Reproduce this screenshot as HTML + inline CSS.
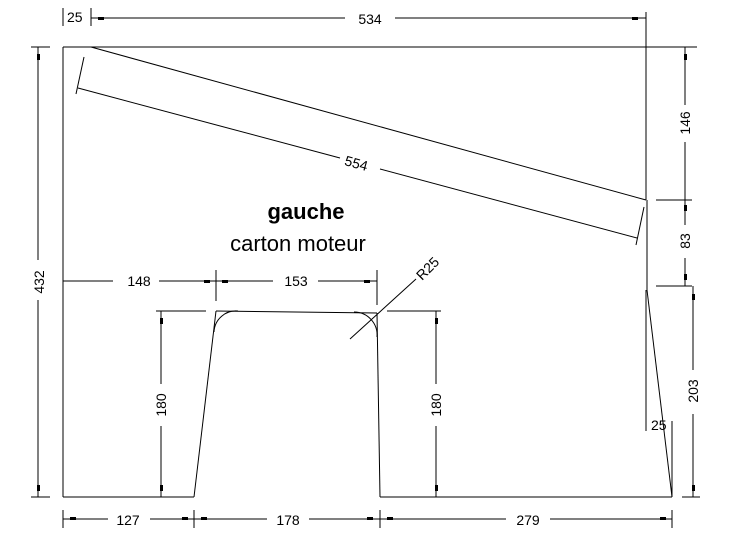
<!DOCTYPE html>
<html><head><meta charset="utf-8"><style>
html,body{margin:0;padding:0;background:#fff;}
svg{display:block}
text{font-family:"Liberation Sans",sans-serif;font-size:14px;fill:#000}
</style></head><body>
<svg width="731" height="546" viewBox="0 0 731 546" xmlns="http://www.w3.org/2000/svg">
<g stroke="#000" stroke-width="1" fill="none">
<line x1="63" y1="47" x2="697" y2="47"/>
<line x1="63" y1="47" x2="63" y2="497"/>
<line x1="91" y1="47" x2="646" y2="200"/>
<line x1="647" y1="200" x2="647" y2="290"/>
<line x1="647" y1="290" x2="672" y2="497"/>
<line x1="63" y1="497" x2="194" y2="497"/>
<line x1="380" y1="497" x2="672" y2="497"/>
<line x1="194" y1="497" x2="216" y2="311"/>
<line x1="216" y1="311" x2="377" y2="313"/>
<line x1="377" y1="313" x2="380" y2="497"/>
<path d="M214 332 A22 22 0 0 1 238 311"/>
<path d="M354 312 A23 23 0 0 1 377 337"/>
<line x1="63" y1="8" x2="63" y2="26"/>
<line x1="91" y1="8" x2="91" y2="26"/>
<line x1="646" y1="12" x2="646" y2="200"/>
<line x1="91" y1="18" x2="345" y2="18"/>
<line x1="395" y1="18" x2="646" y2="18"/>
<line x1="31" y1="47" x2="50" y2="47"/>
<line x1="31" y1="497" x2="50" y2="497"/>
<line x1="38" y1="47" x2="38" y2="260"/>
<line x1="38" y1="300" x2="38" y2="497"/>
<line x1="84" y1="57" x2="76" y2="94"/>
<line x1="644" y1="207" x2="636" y2="245"/>
<line x1="78" y1="88" x2="340" y2="158"/>
<line x1="380" y1="169" x2="637" y2="238"/>
<line x1="656" y1="200" x2="692" y2="200"/>
<line x1="656" y1="286" x2="692" y2="286"/>
<line x1="685" y1="47" x2="685" y2="105"/>
<line x1="685" y1="142" x2="685" y2="225"/>
<line x1="685" y1="258" x2="685" y2="286"/>
<line x1="693" y1="286" x2="693" y2="370"/>
<line x1="693" y1="414" x2="693" y2="497"/>
<line x1="682" y1="497" x2="700" y2="497"/>
<line x1="646" y1="290" x2="646" y2="431"/>
<line x1="672" y1="421" x2="672" y2="497"/>
<line x1="63" y1="510" x2="63" y2="528"/>
<line x1="194" y1="510" x2="194" y2="528"/>
<line x1="380" y1="510" x2="380" y2="528"/>
<line x1="672" y1="510" x2="672" y2="528"/>
<line x1="63" y1="519" x2="108" y2="519"/>
<line x1="150" y1="519" x2="267" y2="519"/>
<line x1="309" y1="519" x2="506" y2="519"/>
<line x1="550" y1="519" x2="672" y2="519"/>
<line x1="63" y1="281" x2="113" y2="281"/>
<line x1="159" y1="281" x2="273" y2="281"/>
<line x1="318" y1="281" x2="377" y2="281"/>
<line x1="216" y1="270" x2="216" y2="301"/>
<line x1="377" y1="270" x2="377" y2="305"/>
<line x1="156" y1="311" x2="206" y2="311"/>
<line x1="161" y1="311" x2="161" y2="384"/>
<line x1="161" y1="426" x2="161" y2="497"/>
<line x1="387" y1="311" x2="441" y2="311"/>
<line x1="436" y1="311" x2="436" y2="384"/>
<line x1="436" y1="426" x2="436" y2="497"/>
<line x1="350" y1="339" x2="416" y2="279"/>
</g>
<g fill="#000">
<rect x="70" y="517" width="6" height="3"/><rect x="182" y="517" width="6" height="3"/>
<rect x="201" y="517" width="6" height="3"/><rect x="367" y="517" width="6" height="3"/>
<rect x="387" y="517" width="6" height="3"/><rect x="660" y="517" width="6" height="3"/>
<rect x="98" y="17" width="6" height="3"/><rect x="632" y="17" width="6" height="3"/>
<rect x="37" y="54" width="3" height="6"/><rect x="37" y="485" width="3" height="6"/>
<rect x="684" y="54" width="3" height="6"/><rect x="684" y="205" width="3" height="6"/>
<rect x="684" y="274" width="3" height="6"/><rect x="692" y="294" width="3" height="6"/>
<rect x="692" y="485" width="3" height="6"/>
<rect x="160" y="318" width="3" height="6"/><rect x="160" y="485" width="3" height="6"/>
<rect x="435" y="318" width="3" height="6"/><rect x="435" y="485" width="3" height="6"/>
<rect x="204" y="280" width="6" height="3"/><rect x="222" y="280" width="6" height="3"/>
<rect x="364" y="280" width="6" height="3"/>
</g>
<text x="67" y="22">25</text>
<text x="370" y="24" text-anchor="middle">534</text>
<text x="128" y="525" text-anchor="middle">127</text>
<text x="288" y="525" text-anchor="middle">178</text>
<text x="528" y="525" text-anchor="middle">279</text>
<text x="139" y="286" text-anchor="middle">148</text>
<text x="296" y="286" text-anchor="middle">153</text>
<text x="651" y="430">25</text>
<text transform="translate(44,282) rotate(-90)" text-anchor="middle">432</text>
<text transform="translate(690,123) rotate(-90)" text-anchor="middle">146</text>
<text transform="translate(690,241) rotate(-90)" text-anchor="middle">83</text>
<text transform="translate(698,391) rotate(-90)" text-anchor="middle">203</text>
<text transform="translate(166,405) rotate(-90)" text-anchor="middle">180</text>
<text transform="translate(441,405) rotate(-90)" text-anchor="middle">180</text>
<text transform="translate(355,168) rotate(15.5)" text-anchor="middle">554</text>
<text transform="translate(422,281) rotate(-45)">R25</text>
<text x="306" y="219" text-anchor="middle" style="font-size:22px;font-weight:bold">gauche</text>
<text x="298" y="251" text-anchor="middle" style="font-size:22px">carton moteur</text>
</svg>
</body></html>
